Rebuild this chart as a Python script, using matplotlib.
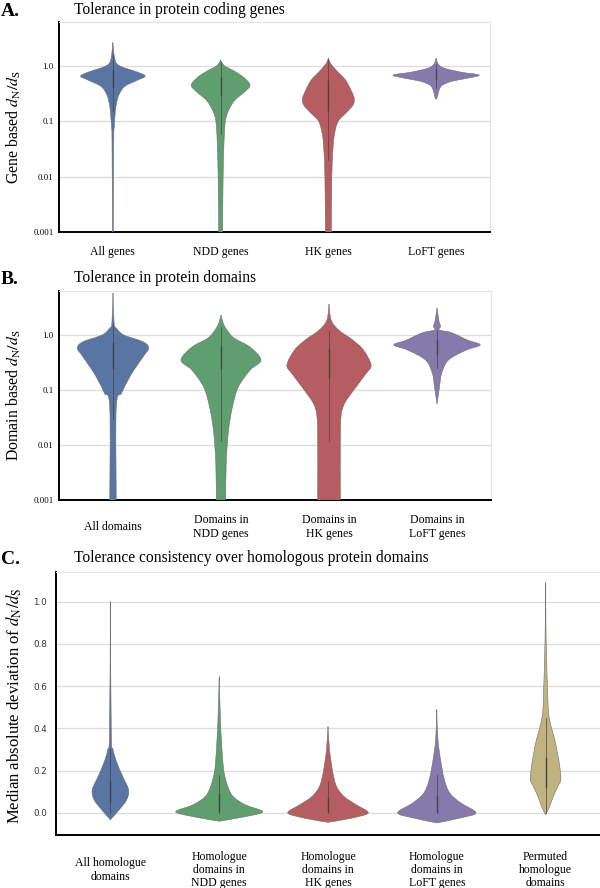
#!/usr/bin/env python3
"""Three-panel violin figure: dN/dS tolerance of genes, domains and homologues."""

import matplotlib
matplotlib.use("Agg")
import matplotlib.pyplot as plt
from matplotlib.path import Path
from matplotlib.patches import PathPatch
import numpy as np

# ── Data (outlines) ──────────────────────────────────────────────────────────
# each violin: list of dN/dS levels (top -> bottom) and half widths
# in category units at those levels
A_CATS = ["All genes", "NDD genes", "HK genes", "LoFT genes"]
A_LEVELS = [
    [2.7, 1.29, 1.0, 0.78, 0.66, 0.56, 0.43, 0.30, 0.195, 0.128, 0.085, 0.045, 0.001],
    [1.29, 1.18, 1.0, 0.85, 0.66, 0.51, 0.43, 0.34, 0.24, 0.16, 0.104, 0.045, 0.01, 0.001],
    [1.4, 1.18, 1.0, 0.78, 0.56, 0.37, 0.26, 0.2, 0.146, 0.1, 0.056, 0.03, 0.01, 0.001],
    [1.4, 1.09, 0.92, 0.78, 0.69, 0.6, 0.53, 0.45, 0.37, 0.28, 0.25],
]
A_WIDTHS = [
    [0, 0.02, 0.07, 0.23, 0.30, 0.23, 0.11, 0.055, 0.03, 0.02, 0.014, 0.008, 0.004],
    [0, 0.01, 0.04, 0.11, 0.20, 0.26, 0.27, 0.22, 0.13, 0.075, 0.045, 0.032, 0.023, 0.018],
    [0, 0.014, 0.04, 0.09, 0.16, 0.21, 0.24, 0.23, 0.17, 0.09, 0.055, 0.042, 0.032, 0.028],
    [0, 0.02, 0.075, 0.23, 0.40, 0.28, 0.14, 0.055, 0.028, 0.012, 0],
]
A_BOX = [(0.42, 0.85), (0.30, 0.62), (0.16, 0.55), (0.58, 0.85)]
A_WHISK = [(0.15, 1.6), (0.06, 1.2), (0.02, 1.3), (0.40, 1.1)]

B_CATS = ["All domains", "Domains in\nNDD genes", "Domains in\nHK genes",
          "Domains in\nLoFT genes"]
B_LEVELS = [
    [5.8, 1.65, 1.34, 1.0, 0.75, 0.58, 0.43, 0.24, 0.152, 0.088, 0.049, 0.001],
    [2.3, 1.65, 1.23, 0.88, 0.6, 0.35, 0.23, 0.113, 0.049, 0.0187, 0.0047, 0.001],
    [3.66, 1.87, 1.23, 0.81, 0.53, 0.285, 0.2, 0.1, 0.049, 0.0187, 0.001],
    [3.1, 1.72, 1.52, 1.4, 1.23, 1.09, 0.81, 0.66, 0.53, 0.35, 0.2, 0.113, 0.055],
]
B_WIDTHS = [
    [0, 0.01, 0.03, 0.10, 0.28, 0.33, 0.29, 0.20, 0.14, 0.08, 0.03, 0.03],
    [0, 0.02, 0.055, 0.12, 0.27, 0.37, 0.27, 0.16, 0.106, 0.07, 0.048, 0.044],
    [0, 0.02, 0.09, 0.22, 0.32, 0.39, 0.345, 0.23, 0.13, 0.106, 0.106],
    [0, 0.02, 0.03, 0.032, 0.023, 0.14, 0.28, 0.40, 0.27, 0.106, 0.043, 0.023, 0],
]
B_BOX = [(0.25, 0.70), (0.25, 0.60), (0.17, 0.55), (0.45, 0.80)]
B_WHISK = [(0.03, 1.6), (0.012, 1.4), (0.012, 1.2), (0.25, 1.25)]

C_CATS = ["All homologue\ndomains", "Homologue\ndomains in\nNDD genes",
          "Homologue\ndomains in\nHK genes", "Homologue\ndomains in\nLoFT genes",
          "Permuted\nhomologue\ndomains"]
C_LEVELS = [
    [1.0, 0.38, 0.30, 0.237, 0.17, 0.109, 0.062, 0.014, -0.033],
    [0.645, 0.43, 0.35, 0.265, 0.19, 0.123, 0.076, 0.038, 0.005, -0.018, -0.04],
    [0.41, 0.30, 0.19, 0.123, 0.076, 0.038, 0.0, -0.025, -0.045],
    [0.49, 0.35, 0.25, 0.156, 0.093, 0.047, 0.0, -0.025, -0.048],
    [1.09, 0.82, 0.55, 0.47, 0.41, 0.345, 0.28, 0.22, 0.156, 0.123, 0.076, 0.028, -0.01],
]
C_WIDTHS = [
    [0, 0.008, 0.024, 0.06, 0.115, 0.167, 0.15, 0.08, 0],
    [0, 0.012, 0.02, 0.03, 0.045, 0.08, 0.13, 0.24, 0.40, 0.24, 0],
    [0, 0.014, 0.045, 0.08, 0.15, 0.26, 0.37, 0.22, 0],
    [0, 0.01, 0.035, 0.07, 0.12, 0.22, 0.36, 0.21, 0],
    [0, 0.005, 0.02, 0.028, 0.05, 0.085, 0.11, 0.13, 0.14, 0.11, 0.07, 0.035, 0],
]
C_BOX = [(0.05, 0.15), (0.01, 0.09), (0.005, 0.07), (0.005, 0.08), (0.12, 0.26)]
C_WHISK = [(0.0, 0.30), (0.0, 0.18), (0.0, 0.15), (0.0, 0.18), (0.0, 0.45)]

# seaborn "deep" palette at 0.75 saturation
COLOURS = ["#5975a4", "#5f9e6e", "#b55d60", "#857aab", "#c1b37f"]

# ── Style ────────────────────────────────────────────────────────────────────
SERIF = ["Liberation Serif", "DejaVu Serif"]
plt.rcParams.update({
    "font.family": SERIF,
    "mathtext.fontset": "stix",
    "axes.linewidth": 1.4,
})

W, H = 600, 888
fig = plt.figure(figsize=(W / 100, H / 100), dpi=100)


def frac(x0, y_top, x1, y_bot):
    """pixel box -> figure fraction rect"""
    return [x0 / W, 1 - y_bot / H, (x1 - x0) / W, (y_bot - y_top) / H]


def catmull(P):
    """cubic Bezier pieces of a Catmull-Rom curve through the points P"""
    out = []
    n = len(P)
    for k in range(n - 1):
        p0 = P[max(k - 1, 0)]
        p1, p2 = P[k], P[k + 1]
        p3 = P[min(k + 2, n - 1)]
        out += [p1 + (p2 - p0) / 6, p2 - (p3 - p1) / 6, p2]
    return out


def violin_path(i, lv, wd, log):
    """outline: right side top->bottom, left side bottom->top, each
    side smoothed on its own (log space on log axes)"""
    y = np.log10(lv) if log else lv
    right = np.column_stack([i + wd, y])
    left = np.column_stack([i - wd, y])[::-1]
    verts = [right[0]] + catmull(right) + [left[0]] + catmull(left)
    codes = ([Path.MOVETO] + [Path.CURVE4] * (3 * (len(right) - 1))
             + [Path.LINETO] + [Path.CURVE4] * (3 * (len(left) - 1)))
    verts = np.array(verts)
    if log:
        verts[:, 1] = 10 ** verts[:, 1]
    return Path(verts, codes)


def violins(ax, levels, widths, box, whisk, log):
    for i, (lv, wd) in enumerate(zip(levels, widths)):
        lv, wd = np.asarray(lv, float), np.asarray(wd, float)
        ax.add_patch(PathPatch(violin_path(i, lv, wd, log), facecolor=COLOURS[i],
                               edgecolor="#707070", linewidth=0.4, zorder=3))
        ax.plot([i, i], whisk[i], color="#444444", lw=0.5, zorder=4)
        ax.plot([i, i], box[i], color="#444444", lw=1.0, zorder=4)


def style(ax, cats, pad):
    ax.set_xticks(range(len(cats)))
    ax.set_xticklabels(cats, va="center", fontsize=8.5, linespacing=1.15)
    ax.set_xlim(-0.5, len(cats) - 0.5)
    ax.tick_params(axis="x", length=0, pad=pad)
    ax.tick_params(axis="y", length=0, pad=4)
    ax.grid(axis="y", color="#dcdcdc", lw=0.9, zorder=0)
    ax.set_axisbelow(True)
    for s in ("top", "right"):
        ax.spines[s].set_color("#e4e4e4")
        ax.spines[s].set_linewidth(0.8)


LOG_TICKS = [0.001, 0.01, 0.1, 1.0]
LOG_LABELS = ["0.001", "0.01", "0.1", "1.0"]

# ── Panel A ──────────────────────────────────────────────────────────────────
ax_a = fig.add_axes(frac(59, 22, 490, 232))
ax_a.set_yscale("log")
violins(ax_a, A_LEVELS, A_WIDTHS, A_BOX, A_WHISK, True)
ax_a.set_ylim(0.001, 6.3)
ax_a.set_yticks(LOG_TICKS)
ax_a.set_yticklabels(LOG_LABELS, fontsize=6.3)
ax_a.minorticks_off()
style(ax_a, A_CATS, 14.4)

# ── Panel B ──────────────────────────────────────────────────────────────────
ax_b = fig.add_axes(frac(59, 291, 491, 500))
ax_b.set_yscale("log")
violins(ax_b, B_LEVELS, B_WIDTHS, B_BOX, B_WHISK, True)
ax_b.set_ylim(0.001, 6.3)
ax_b.set_yticks(LOG_TICKS)
ax_b.set_yticklabels(LOG_LABELS, fontsize=6.3)
ax_b.minorticks_off()
style(ax_b, B_CATS, 19.4)

# ── Panel C ──────────────────────────────────────────────────────────────────
ax_c = fig.add_axes(frac(56, 572, 600, 835))
violins(ax_c, C_LEVELS, C_WIDTHS, C_BOX, C_WHISK, False)
ax_c.set_ylim(-0.105, 1.14)
c_ticks = [0.0, 0.2, 0.4, 0.6, 0.8, 1.0]
ax_c.set_yticks(c_ticks)
ax_c.set_yticklabels([f"{t:.1f}" for t in c_ticks])
style(ax_c, C_CATS, 25.2)
ax_c.tick_params(axis="y", pad=6.5)
ax_c.spines["right"].set_visible(False)
for lab in ax_c.get_yticklabels():
    lab.set_fontfamily("DejaVu Sans")
    lab.set_fontsize(6.3)
    lab.set_color("#333333")

# ── Titles, panel letters, axis labels ──────────────────────────────────────
for letter, title, y in [("A.", "Tolerance in protein coding genes", 10),
                         ("B.", "Tolerance in protein domains", 278),
                         ("C.", "Tolerance consistency over homologous protein domains", 558)]:
    fig.text(1 / W, 1 - (y + 1) / H, letter, fontsize=14, fontweight="bold",
             va="center", ha="left")
    fig.text(74 / W, 1 - y / H, title, fontsize=11.2, va="center", ha="left")

fig.text(14 / W, 1 - 127 / H, r"Gene based $d_\mathrm{N}/d_\mathrm{S}$",
         rotation=90, va="center", ha="center", fontsize=11.4)
fig.text(14 / W, 1 - 395 / H, r"Domain based $d_\mathrm{N}/d_\mathrm{S}$",
         rotation=90, va="center", ha="center", fontsize=11.4)
fig.text(14 / W, 1 - 706 / H,
         r"Median absolute deviation of $d_\mathrm{N}/d_\mathrm{S}$",
         rotation=90, va="center", ha="center", fontsize=12)

fig.savefig("out.png", dpi=100, facecolor="white")
plt.close(fig)
